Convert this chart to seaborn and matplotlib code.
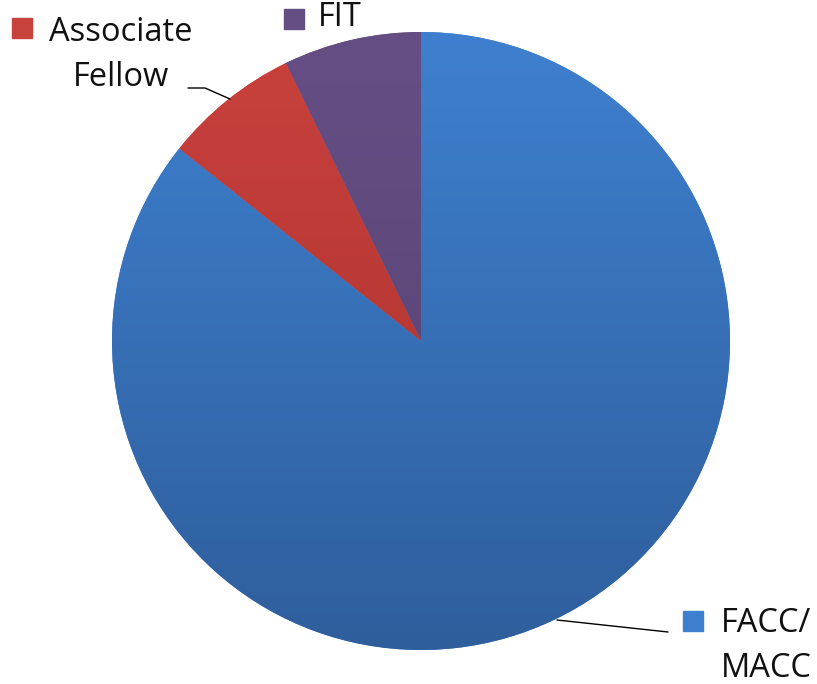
import numpy as np
import matplotlib
matplotlib.use("Agg")
import matplotlib.pyplot as plt
import seaborn as sns
from matplotlib.colors import LinearSegmentedColormap

sns.set_theme(style="white")
plt.rcParams['font.family'] = ['Open Sans', 'DejaVu Sans']

categories = ["FACC/\nMACC", "Associate\nFellow", "FIT"]
values = [85.7, 7.1, 7.2]
top_colors = ["#3e80cf", "#c9413d", "#654e84"]
bottom_colors = ["#2f5e9c", "#a8302c", "#574270"]

fig = plt.figure(figsize=(8.17, 6.84), dpi=100)
ax = fig.add_axes([0, 0, 1, 1])
R = 309.0
cx, cy = 421.0, 341.0
W, H = 817.0, 684.0

wedges, _ = ax.pie(values, startangle=90, counterclock=False, radius=1.0,
                   colors=top_colors, wedgeprops=dict(linewidth=0))
ax.set_xlim(-cx / R, (W - cx) / R)
ax.set_ylim(-(H - cy) / R, cy / R)
ax.set_aspect("equal")
ax.axis("off")

grad = np.linspace(0, 1, 256).reshape(-1, 1)
for w, tc, bc in zip(wedges, top_colors, bottom_colors):
    cmap = LinearSegmentedColormap.from_list("g", [tc, bc])
    im = ax.imshow(grad, cmap=cmap, extent=(-1, 1, -1, 1), origin="upper",
                   aspect="auto", zorder=2)
    im.set_clip_path(w)

def px(x, y):
    return ((x - cx) / R, (cy - y) / R)

fs = 23.5
tc_ = "#111111"
# Associate Fellow
ax.add_patch(plt.Rectangle(px(12, 38), 20 / R, 20 / R, color=top_colors[1], zorder=3))
ax.text(*px(121, 55), categories[1], ha="center", va="center", fontsize=fs,
        color=tc_, linespacing=1.45)
ax.plot(*zip(px(188, 88), px(205, 88), px(230, 99)), color="black", lw=1, zorder=3)

# FIT
ax.add_patch(plt.Rectangle(px(284, 29), 20 / R, 20 / R, color=top_colors[2], zorder=3))
ax.text(*px(318, 18), categories[2], ha="left", va="center", fontsize=fs, color=tc_)

# FACC/MACC
ax.add_patch(plt.Rectangle(px(683, 631), 20 / R, 20 / R, color=top_colors[0], zorder=3))
ax.text(*px(766, 646), categories[0], ha="center", va="center", fontsize=fs,
        color=tc_, linespacing=1.45)
ax.plot(*zip(px(557, 620), px(668, 632)), color="black", lw=1, zorder=3)

fig.savefig("out.png", dpi=100, facecolor="white")
